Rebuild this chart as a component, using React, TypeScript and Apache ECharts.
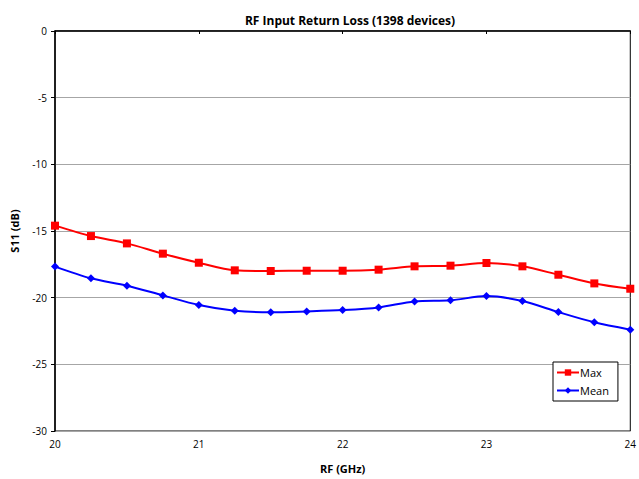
import React, { useEffect, useRef } from "react";
import * as echarts from "echarts";

const freqs = [20, 20.25, 20.5, 20.75, 21, 21.25, 21.5, 21.75, 22, 22.25, 22.5, 22.75, 23, 23.25, 23.5, 23.75, 24];
const maxVals = [-14.6, -15.38, -15.93, -16.7, -17.38, -17.95, -18.0, -17.98, -17.98, -17.9, -17.65, -17.6, -17.4, -17.65, -18.28, -18.93, -19.33];
const meanVals = [-17.67, -18.55, -19.1, -19.83, -20.55, -20.98, -21.1, -21.03, -20.93, -20.73, -20.28, -20.2, -19.88, -20.25, -21.08, -21.85, -22.4];

const FONT = "'Open Sans', 'Noto Sans', sans-serif";

export default function App() {
  const ref = useRef<HTMLDivElement>(null);
  useEffect(() => {
    if (!ref.current) return;
    const chart = echarts.init(ref.current, undefined, { renderer: "svg" });
    chart.setOption({
      animation: false,
      backgroundColor: "#ffffff",
      textStyle: { fontFamily: FONT },
      title: {
        text: "RF Input Return Loss (1398 devices)",
        left: 345,
        textAlign: "center",
        top: 9,
        textStyle: { fontFamily: FONT, fontSize: 12, fontWeight: "bold", color: "#000" },
      },
      grid: {
        left: 55,
        right: 7,
        top: 31,
        bottom: 48,
        show: true,
        borderColor: "#000",
        borderWidth: 1,
        backgroundColor: "#fff",
      },
      legend: {
        orient: "vertical",
        left: 553,
        top: 362,
        itemWidth: 22,
        itemHeight: 8,
        itemGap: 7,
        padding: [5, 9, 5, 3],
        borderColor: "#000",
        borderWidth: 1,
        backgroundColor: "#fff",
        textStyle: { fontFamily: FONT, fontSize: 11, color: "#000", padding: [0, 0, 0, -4] },
        data: ["Max", "Mean"],
      },
      xAxis: {
        type: "value",
        min: 20,
        max: 24,
        interval: 1,
        name: "RF (GHz)",
        nameLocation: "middle",
        nameGap: 32,
        nameTextStyle: { fontFamily: FONT, fontSize: 11, fontWeight: "bold", color: "#000" },
        axisLine: { show: true, lineStyle: { color: "#000", width: 1.5 } },
        axisTick: { show: true, length: 3, lineStyle: { color: "#000" } },
        axisLabel: { fontFamily: FONT, fontSize: 10, color: "#000", margin: 8 },
        splitLine: { show: false },
      },
      yAxis: {
        type: "value",
        min: -30,
        max: 0,
        interval: 5,
        name: "S11 (dB)",
        nameLocation: "middle",
        nameGap: 35,
        nameRotate: 90,
        nameTextStyle: { fontFamily: FONT, fontSize: 11, fontWeight: "bold", color: "#000" },
        axisLine: { show: true, lineStyle: { color: "#000", width: 1.5 } },
        axisTick: { show: true, length: 4, lineStyle: { color: "#000" } },
        axisLabel: { fontFamily: FONT, fontSize: 10, color: "#000", margin: 8 },
        splitLine: { show: true, lineStyle: { color: "#a6a6a6", width: 1 } },
      },
      series: [
        {
          name: "Max",
          type: "line",
          smooth: 0.3,
          data: freqs.map((f, i) => [f, maxVals[i]]),
          symbol: "rect",
          symbolSize: 8,
          itemStyle: { color: "#ff0000" },
          lineStyle: { color: "#ff0000", width: 2 },
        },
        {
          name: "Mean",
          type: "line",
          smooth: 0.3,
          data: freqs.map((f, i) => [f, meanVals[i]]),
          symbol: "diamond",
          symbolSize: 8,
          itemStyle: { color: "#0000ff" },
          lineStyle: { color: "#0000ff", width: 2 },
        },
      ],
    });
    return () => chart.dispose();
  }, []);
  return <div ref={ref} style={{ position: "fixed", left: 0, top: 0, width: 639, height: 479 }} />;
}
